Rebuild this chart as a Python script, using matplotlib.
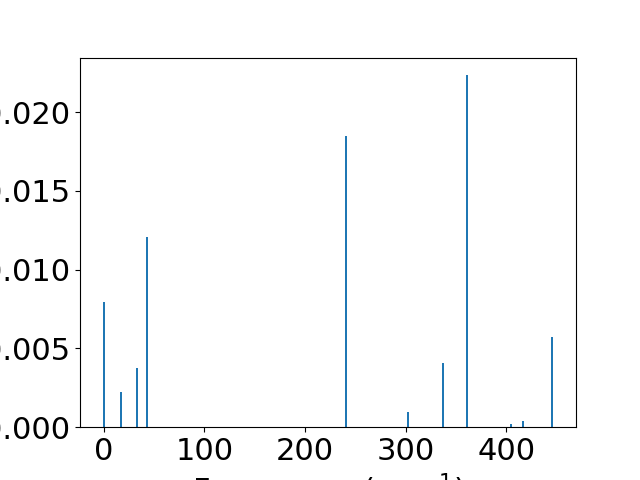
import matplotlib
matplotlib.use('Agg')
import matplotlib.pyplot as plt

# vibrational modes: frequency and intensity
freqs = [0, 17, 33, 43, 240.5, 302, 337, 361, 404.5, 416.5, 445.5]
intensities = [0.00795, 0.00222, 0.00375, 0.0121, 0.01848, 0.00095,
               0.00405, 0.02234, 0.0002, 0.0004, 0.0057]

plt.rcParams['font.size'] = 22

fig = plt.figure(figsize=(6.4, 4.8), dpi=100)
plt.bar(freqs, intensities, width=2.5)
plt.xlabel('Frequency (cm$^{-1}$)')

plt.savefig('out.png')
